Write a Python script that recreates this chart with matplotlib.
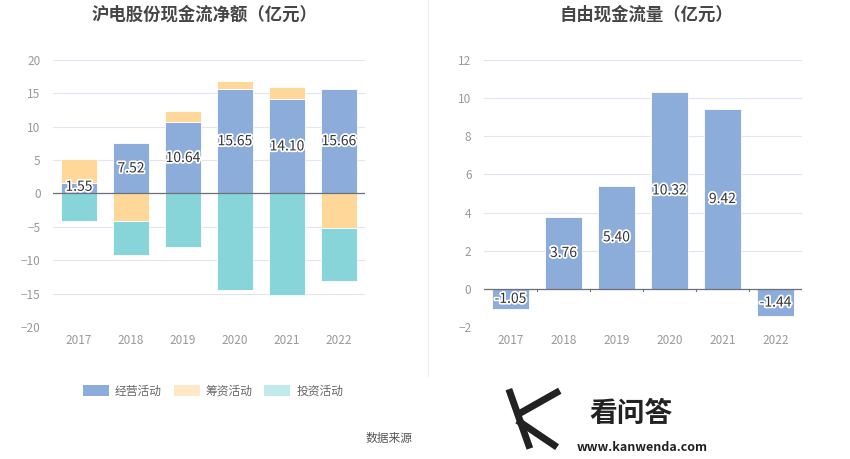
import matplotlib
matplotlib.use("Agg")
import matplotlib.pyplot as plt
import matplotlib.patheffects as pe
from matplotlib.patches import Patch
import numpy as np

plt.rcParams['font.family'] = ['Noto Sans CJK SC', 'DejaVu Sans']

years = ["2017", "2018", "2019", "2020", "2021", "2022"]
operating = [1.55, 7.52, 10.64, 15.65, 14.10, 15.66]
financing = [3.65, -4.15, 1.70, 1.20, 1.85, -5.15]
investing = [-4.05, -5.00, -8.00, -14.40, -15.20, -7.95]
free_cf = [-1.05, 3.76, 5.40, 10.32, 9.42, -1.44]

c_op = "#8cacda"
c_fin = "#ffd899"
c_inv = "#88d5d9"
grid_c = "#e0e6f1"
tick_c = "#999999"
halo = [pe.withStroke(linewidth=2.5, foreground="white")]

fig = plt.figure(figsize=(8.5, 4.59), dpi=100)
ax1 = fig.add_axes([0.0624, 0.2876, 0.367, 0.5817])
ax2 = fig.add_axes([0.5694, 0.2876, 0.374, 0.5817])

x = np.arange(len(years))
w = 0.69

# stacked: positives stack up, negatives stack down
pos_base = np.zeros(len(years))
neg_base = np.zeros(len(years))
for vals, col in [(operating, c_op), (financing, c_fin), (investing, c_inv)]:
    vals = np.array(vals)
    bottoms = np.where(vals >= 0, pos_base, neg_base)
    ax1.bar(x, vals, w, bottom=bottoms, color=col, edgecolor="white", linewidth=0.6, zorder=2)
    pos_base = pos_base + np.where(vals >= 0, vals, 0)
    neg_base = neg_base + np.where(vals < 0, vals, 0)

for i, v in enumerate(operating):
    ax1.text(x[i], v / 2 if v > 4 else 1.0, f"{v:.2f}", ha="center", va="center",
             fontsize=10, color="#333333", path_effects=halo, zorder=4)

ax1.set_ylim(-20, 20)
ax1.set_yticks(range(-20, 21, 5))

ax2.bar(x, free_cf, 0.7, color=c_op, edgecolor="white", linewidth=0.6, zorder=2)
for i, v in enumerate(free_cf):
    ax2.text(x[i], v / 2, f"{v:.2f}", ha="center", va="center",
             fontsize=10, color="#333333", path_effects=halo, zorder=4)
ax2.set_ylim(-2, 12)
ax2.set_yticks(range(-2, 13, 2))

for ax in (ax1, ax2):
    ax.set_xlim(-0.5, len(years) - 0.5)
    ax.set_xticks(x)
    ax.set_xticklabels(years)
    ax.tick_params(axis="both", length=0, labelsize=8.5, labelcolor=tick_c)
    ax.tick_params(axis="x", pad=5)
    ax.tick_params(axis="y", pad=9)
    ax.grid(axis="y", color=grid_c, linewidth=0.8, zorder=0)
    for s in ax.spines.values():
        s.set_visible(False)
    ax.axhline(0, color="#6e7079", linewidth=0.9, zorder=3)

# small ticks on zero line between categories (right chart)
for b in np.arange(0.5, len(years) - 0.5, 1):
    ax2.plot([b, b], [0, -0.12], color="#6e7079", linewidth=0.8, zorder=3, clip_on=False)

fig.text(0.24, 0.968, "沪电股份现金流净额（亿元）", ha="center", va="center",
         fontsize=12.5, fontweight="bold", color="#464646")
fig.text(0.76, 0.968, "自由现金流量（亿元）", ha="center", va="center",
         fontsize=12.5, fontweight="bold", color="#464646")

# divider
fig.add_artist(plt.Line2D([0.5035, 0.5035], [0.18, 1.0], color="#eeeeee", linewidth=0.8))

handles = [Patch(facecolor=c_op, edgecolor="none"),
           Patch(facecolor="#ffe8c8", edgecolor="none"),
           Patch(facecolor="#c2eaea", edgecolor="none")]
fig.legend(handles, ["经营活动", "筹资活动", "投资活动"], loc="center left",
           bbox_to_anchor=(0.085, 0.148), ncol=3, frameon=False, fontsize=8.5,
           labelcolor="#666666", handlelength=2.2, handleheight=1.1,
           columnspacing=1.0, handletextpad=0.5)

fig.text(0.458, 0.045, "数据来源", ha="center", va="center", fontsize=8.5, color="#555555")

# watermark
fig.add_artist(plt.Line2D([0.600, 0.622], [0.145, 0.03], color="#222222", linewidth=5))
fig.add_artist(plt.Line2D([0.612, 0.655], [0.10, 0.145], color="#222222", linewidth=5))
fig.add_artist(plt.Line2D([0.612, 0.652], [0.08, 0.03], color="#222222", linewidth=5))
fig.text(0.742, 0.098, "看问答", ha="center", va="center", fontsize=20, fontweight="bold", color="#222222")
fig.text(0.755, 0.024, "www.kanwenda.com", ha="center", va="center", fontsize=9,
         fontweight="bold", color="#222222")

fig.savefig("out.png", dpi=100)
